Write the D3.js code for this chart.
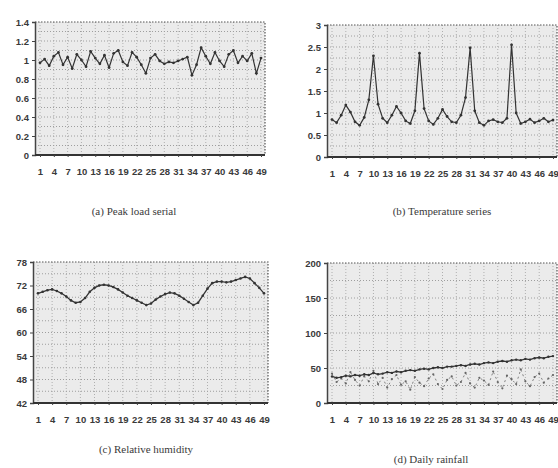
<!DOCTYPE html>
<html>
<head>
<meta charset="utf-8">
<script src="https://cdn.jsdelivr.net/npm/d3@7"></script>
<style>
  body { margin: 0; background: #fff; }
  svg { display: block; font-family: "Liberation Serif", "DejaVu Serif", serif; }
  .tick-label { font-size: 9.5px; fill: #3a3a3a; font-weight: bold; }
  .caption { font-size: 11px; fill: #3a3a3a; }
</style>
</head>
<body>
<svg id="chart" width="558" height="468"></svg>
<script>
  // x positions shared by all four panels
  const days = d3.range(1, 50)
  const dayTicks = days.filter(d => (d - 1) % 3 === 0)

  // (a) peak load series
  const peakLoad = [0.97, 1.01, 0.94, 1.04, 1.08, 0.95, 1.03, 0.91, 1.06, 1.00, 0.93, 1.09, 1.02, 0.96, 1.05, 0.92, 1.07, 1.10, 0.98, 0.94,
    1.08, 1.03, 0.95, 0.86, 1.02, 1.06, 0.99, 0.96, 0.98, 0.97, 0.99, 1.01, 1.03, 0.84, 0.95, 1.13, 1.04, 0.96, 1.08, 0.99,
    0.93, 1.06, 1.10, 0.97, 1.04, 0.99, 1.07, 0.86, 1.02]
  const peakLoadTicks = [0, 0.2, 0.4, 0.6, 0.8, 1, 1.2, 1.4]

  // (b) temperature series
  const temperature = [0.85, 0.78, 0.95, 1.18, 1.02, 0.80, 0.72, 0.90, 1.30, 2.30,
    1.20, 0.88, 0.78, 0.95, 1.15, 1.00, 0.82, 0.76, 1.05, 2.36,
    1.10, 0.82, 0.74, 0.88, 1.08, 0.92, 0.80, 0.78, 0.95, 1.35,
    2.48, 1.05, 0.78, 0.72, 0.82, 0.85, 0.80, 0.78, 0.88, 2.55,
    1.00, 0.76, 0.80, 0.86, 0.78, 0.82, 0.88, 0.80, 0.84]
  const temperatureTicks = [0, 0.5, 1, 1.5, 2, 2.5, 3]

  // (c) relative humidity
  const humidity = [70.0, 70.4, 70.8, 71.0, 70.6, 70.0, 69.2, 68.2, 67.6, 67.8, 68.8, 70.4, 71.4, 72.0, 72.2, 72.0, 71.6, 71.0, 70.2, 69.4,
    68.8, 68.2, 67.6, 67.0, 67.4, 68.4, 69.2, 69.8, 70.2, 70.0, 69.4, 68.6, 67.8, 67.0, 67.6, 69.4, 71.2, 72.6, 73.0, 73.0,
    72.8, 73.0, 73.4, 73.8, 74.2, 73.8, 72.6, 71.4, 70.0]
  const humidityTicks = [42, 48, 54, 60, 66, 72, 78]

  // (d) rainfall: trend line and daily readings
  const rainTrend = [38, 36, 37, 39, 38, 40, 39, 41, 40, 43, 41, 42, 44, 43, 45, 44, 46, 47, 46, 48,
    49, 48, 50, 51, 50, 52, 52, 53, 54, 53, 55, 56, 55, 57, 58, 57, 59, 60, 59, 61,
    62, 61, 63, 62, 64, 65, 64, 66, 67]
  const rainDaily = [42, 30, 35, 28, 44, 33, 25, 38, 31, 46, 27, 36, 22, 34, 40, 26, 31, 19, 37, 29,
    24, 35, 41, 27, 20, 33, 38, 25, 30, 43, 28, 22, 36, 32, 26, 45, 30, 21, 39, 34,
    27, 48, 31, 24, 37, 42, 29, 35, 40]
  const rainTicks = [0, 50, 100, 150, 200]

  const captions = ['(a) Peak load serial', '(b) Temperature series', '(c) Relative humidity', '(d) Daily rainfall']

  const svg = d3.select('#chart')

  function add_panel (box) {
    const g = svg.append('g')
    const x = d3.scalePoint().domain(days).range([box.left + 5, box.right - 4])
    const y = d3.scaleLinear().domain(box.domain).range([box.bottom, box.top])

    // speckled plot background
    g.append('rect')
      .attr('x', box.left).attr('y', box.top)
      .attr('width', box.right - box.left).attr('height', box.bottom - box.top)
      .attr('fill', '#ebebeb')

    // dotted grid, half steps between the labelled ticks
    const step = box.ticks[1] - box.ticks[0]
    const gridY = d3.range(box.domain[0] + step / 2, box.domain[1], step / 2)
    g.selectAll('.grid-h').data(gridY).enter().append('line')
      .attr('x1', box.left).attr('x2', box.right)
      .attr('y1', d => y(d)).attr('y2', d => y(d))
      .attr('stroke', '#8a8a8a').attr('stroke-width', 0.8)
      .attr('stroke-dasharray', '1,2')
    g.selectAll('.grid-v').data(dayTicks).enter().append('line')
      .attr('x1', d => x(d)).attr('x2', d => x(d))
      .attr('y1', box.top).attr('y2', box.bottom)
      .attr('stroke', '#a0a0a0').attr('stroke-width', 0.8)
      .attr('stroke-dasharray', '1,2')

    // frame: dotted top/right, solid left/bottom
    g.append('path')
      .attr('d', `M${box.left},${box.top}H${box.right}V${box.bottom}`)
      .attr('fill', 'none').attr('stroke', '#555')
      .attr('stroke-width', 1.2).attr('stroke-dasharray', '1.5,1.5')

    const yAxis = d3.axisLeft(y).tickValues(box.ticks).tickSize(3)
      .tickFormat(d => d3.format('~g')(d))
    const ya = g.append('g').attr('transform', `translate(${box.left},0)`).call(yAxis)
    ya.select('.domain').attr('stroke', '#444').attr('stroke-width', 1.5)
    ya.selectAll('line').attr('stroke', '#444')
    ya.selectAll('text').attr('class', 'tick-label').attr('font-family', null).attr('font-size', null)

    const xAxis = d3.axisBottom(x).tickValues(dayTicks).tickSize(2).tickPadding(11)
    const xa = g.append('g').attr('transform', `translate(0,${box.bottom})`).call(xAxis)
    xa.select('.domain').attr('stroke', '#333').attr('stroke-width', 2)
      .attr('d', `M${box.left},0H${box.right}`)
    xa.selectAll('line').attr('stroke', '#444')
    xa.selectAll('text').attr('class', 'tick-label').attr('font-family', null).attr('font-size', null)

    // series
    box.series.forEach(s => {
      const line = d3.line().x((d, i) => x(days[i])).y(d => y(d))
      if (s.line) {
        g.append('path')
          .attr('d', line(s.values))
          .attr('fill', 'none').attr('stroke', s.color)
          .attr('stroke-width', s.width || 1.2)
          .attr('stroke-dasharray', s.dash || null)
      }
      g.selectAll(null).data(s.values).enter().append('circle')
        .attr('cx', (d, i) => x(days[i])).attr('cy', d => y(d))
        .attr('r', s.r).attr('fill', s.color)
    })

    svg.append('text')
      .attr('class', 'caption')
      .attr('x', box.captionX).attr('y', box.captionY)
      .attr('text-anchor', 'middle')
      .text(box.caption)
  }

  add_panel({
    left: 35, right: 265, top: 22, bottom: 155, domain: [0, 1.4], ticks: peakLoadTicks,
    series: [{ values: peakLoad, color: '#333', line: true, r: 1.4 }],
    caption: captions[0], captionX: 134, captionY: 215
  })

  add_panel({
    left: 327, right: 557, top: 25, bottom: 157, domain: [0, 3], ticks: temperatureTicks,
    series: [{ values: temperature, color: '#333', line: true, r: 1.4 }],
    caption: captions[1], captionX: 442, captionY: 215
  })

  add_panel({
    left: 33, right: 268, top: 262, bottom: 403, domain: [42, 78], ticks: humidityTicks,
    series: [{ values: humidity, color: '#333', line: true, width: 1.3, r: 1.3 }],
    caption: captions[2], captionX: 146, captionY: 453
  })

  add_panel({
    left: 327, right: 557, top: 263, bottom: 403, domain: [0, 200], ticks: rainTicks,
    series: [
      { values: rainDaily, color: '#666', line: true, dash: '2,3', width: 0.8, r: 1.1 },
      { values: rainTrend, color: '#333', line: true, width: 1.3, r: 1.2 }
    ],
    caption: captions[3], captionX: 431, captionY: 463
  })
</script>
</body>
</html>
